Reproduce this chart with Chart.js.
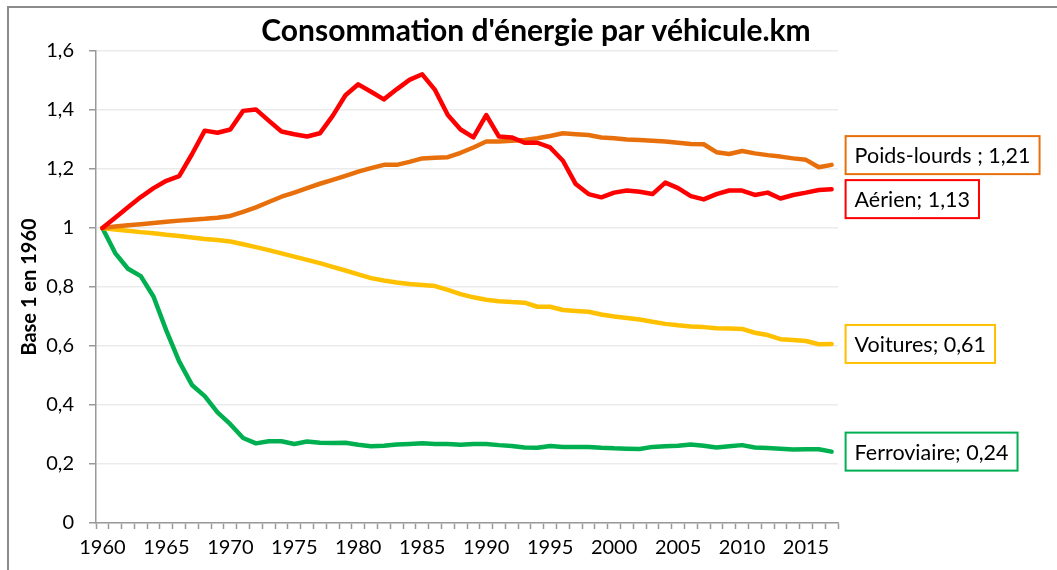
<!DOCTYPE html>
<html lang="fr">
<head>
<meta charset="utf-8">
<title>Consommation d'énergie par véhicule.km</title>
<script src="https://cdn.jsdelivr.net/npm/chart.js@4.4.1/dist/chart.umd.min.js"></script>
<style>
  html, body { margin: 0; padding: 0; background: #ffffff; }
  #wrap { width: 1057px; height: 570px; position: relative; }
</style>
</head>
<body>
<div id="wrap"><canvas id="chart"></canvas></div>
<script>
// Données (base 1 en 1960)
const years = [];
for (let y = 1960; y <= 2017; y++) years.push(y);

const aerien = [
  1.0, 1.035, 1.07, 1.105, 1.135, 1.16, 1.176, 1.25, 1.33, 1.323,
  1.334, 1.397, 1.402, 1.364, 1.327, 1.318, 1.31, 1.321, 1.38, 1.45,
  1.487, 1.462, 1.436, 1.47, 1.502, 1.521, 1.468, 1.383, 1.334, 1.307,
  1.383, 1.31, 1.307, 1.289, 1.289, 1.273, 1.228, 1.149, 1.115, 1.104,
  1.12, 1.127, 1.123, 1.115, 1.154, 1.135, 1.108, 1.097, 1.115, 1.127,
  1.127, 1.112, 1.12, 1.1, 1.112, 1.12, 1.129, 1.131
];
const poidsLourds = [
  1.0, 1.005, 1.009, 1.013, 1.017, 1.021, 1.025, 1.028, 1.031, 1.035,
  1.041, 1.055, 1.07, 1.088, 1.106, 1.12, 1.135, 1.15, 1.163, 1.177,
  1.191, 1.203, 1.214, 1.214, 1.224, 1.236, 1.238, 1.24, 1.255, 1.273,
  1.293, 1.293, 1.296, 1.298, 1.304, 1.312, 1.321, 1.318, 1.315, 1.307,
  1.304, 1.3, 1.298, 1.296, 1.293, 1.289, 1.285, 1.284, 1.257, 1.251,
  1.261, 1.253, 1.247, 1.242, 1.236, 1.231, 1.206, 1.214
];
const voitures = [
  1.0, 0.995, 0.991, 0.986, 0.982, 0.977, 0.973, 0.968, 0.963, 0.959,
  0.954, 0.945, 0.935, 0.925, 0.914, 0.903, 0.892, 0.881, 0.868, 0.856,
  0.843, 0.83, 0.822, 0.815, 0.81, 0.807, 0.803, 0.79, 0.776, 0.765,
  0.757, 0.752, 0.749, 0.747, 0.733, 0.733, 0.722, 0.719, 0.716, 0.707,
  0.7, 0.695, 0.69, 0.682, 0.675, 0.67, 0.666, 0.664, 0.66, 0.659,
  0.658, 0.645, 0.637, 0.623, 0.62, 0.617, 0.606, 0.607
];
const ferroviaire = [
  1.0, 0.915, 0.862, 0.837, 0.767, 0.652, 0.548, 0.468, 0.43, 0.375,
  0.335, 0.288, 0.27, 0.277, 0.277, 0.268, 0.276, 0.272, 0.271, 0.272,
  0.265, 0.26, 0.262, 0.266, 0.268, 0.27, 0.268, 0.268, 0.265, 0.268,
  0.268, 0.264, 0.261, 0.256, 0.255, 0.261, 0.258, 0.258, 0.258, 0.255,
  0.253, 0.252, 0.251, 0.258, 0.26, 0.262, 0.266, 0.262, 0.256, 0.26,
  0.264, 0.256, 0.254, 0.252, 0.249, 0.25, 0.25, 0.242
];

const endLabels = ["Aérien; 1,13", "Poids-lourds ; 1,21", "Voitures; 0,61", "Ferroviaire; 0,24"];
const colors = ["#ff0000", "#e8700c", "#ffc000", "#00b050"];

const FONT = "Lato, 'Open Sans', sans-serif";

// Cadre gris + fond blanc
const framePlugin = {
  id: "frame",
  beforeDraw(chart) {
    const ctx = chart.ctx;
    ctx.save();
    ctx.fillStyle = "#ffffff";
    ctx.fillRect(0, 0, chart.width, chart.height);
    ctx.strokeStyle = "#8c8c8c";
    ctx.lineWidth = 2;
    ctx.strokeRect(8, 7, chart.width + 20, chart.height + 20);
    ctx.restore();
  },
};

// Titre centré sur la page
const titlePlugin = {
  id: "pageTitle",
  afterDraw(chart) {
    const ctx = chart.ctx;
    ctx.save();
    ctx.font = "bold 30px " + FONT;
    ctx.fillStyle = "#000000";
    ctx.textAlign = "center";
    ctx.textBaseline = "middle";
    ctx.fillText("Consommation d'énergie par véhicule.km", 536, 31);
    ctx.restore();
  },
};

// Étiquettes encadrées en bout de courbe
const endLabelPlugin = {
  id: "endLabels",
  afterDatasetsDraw(chart) {
    const ctx = chart.ctx;
    const yScale = chart.scales.y;
    const xScale = chart.scales.x;
    const lastIndex = years.length - 1;
    const boxH = 38;
    const items = chart.data.datasets.map((ds, i) => ({
      text: endLabels[i],
      color: ds.borderColor,
      y: yScale.getPixelForValue(ds.data[lastIndex]),
    }));
    // éviter les chevauchements
    const sorted = items.slice().sort((a, b) => a.y - b.y);
    for (let i = 1; i < sorted.length; i++) {
      const prev = sorted[i - 1];
      const cur = sorted[i];
      const gap = boxH + 6;
      if (cur.y - prev.y < gap) {
        const mid = (cur.y + prev.y) / 2;
        prev.y = mid - gap / 2;
        cur.y = mid + gap / 2;
      }
    }
    const left = xScale.getPixelForValue(lastIndex) + 14;
    ctx.save();
    ctx.font = "21.5px " + FONT;
    ctx.textBaseline = "middle";
    ctx.textAlign = "left";
    items.forEach((it) => {
      const w = ctx.measureText(it.text).width + 18;
      ctx.fillStyle = "#ffffff";
      ctx.fillRect(left, it.y - boxH / 2, w, boxH);
      ctx.strokeStyle = it.color;
      ctx.lineWidth = 2;
      ctx.strokeRect(left, it.y - boxH / 2, w, boxH);
      ctx.fillStyle = "#000000";
      ctx.fillText(it.text, left + 9, it.y + 1);
    });
    ctx.restore();
  },
};

const ctx = document.getElementById("chart").getContext("2d");
const chart = new Chart(ctx, {
  type: "line",
  data: {
    labels: years,
    datasets: [
      { label: "Aérien", data: aerien },
      { label: "Poids-lourds", data: poidsLourds },
      { label: "Voitures", data: voitures },
      { label: "Ferroviaire", data: ferroviaire },
    ].map((ds, i) => ({
      ...ds,
      borderColor: colors[i],
      backgroundColor: colors[i],
      borderWidth: 4.5,
      pointRadius: 0,
      tension: 0,
      borderJoinStyle: "round",
      borderCapStyle: "round",
    })),
  },
  options: {
    responsive: true,
    maintainAspectRatio: false,
    animation: false,
    layout: {
      padding: { top: 51, right: 219, bottom: 0, left: 0 },
    },
    plugins: {
      legend: { display: false },
      tooltip: { enabled: false },
      title: { display: false },
    },
    scales: {
      x: {
        type: "category",
        offset: true,
        grid: {
          offset: true,
          drawOnChartArea: false,
          drawTicks: true,
          tickLength: 6,
          tickColor: "#999999",
          tickWidth: 1.5,
        },
        border: { color: "#999999", width: 1.5 },
        ticks: {
          autoSkip: false,
          maxRotation: 0,
          padding: 7,
          color: "#000000",
          font: { family: FONT, size: 20 },
          callback: (val, i) => (years[i] % 5 === 0 ? String(years[i]) : ""),
        },
        afterFit: (scale) => {
          scale.height = 47;
        },
      },
      y: {
        min: 0,
        max: 1.6,
        ticks: {
          stepSize: 0.2,
          padding: 15,
          color: "#000000",
          font: { family: FONT, size: 20 },
          callback: (v) => String(Math.round(v * 10) / 10).replace(".", ","),
        },
        grid: {
          color: "#ebebeb",
          lineWidth: 1.5,
          tickColor: "#999999",
          tickLength: 7,
        },
        border: { color: "#999999", width: 1.5 },
        title: {
          display: true,
          text: "Base 1 en 1960",
          color: "#000000",
          font: { family: FONT, size: 20, weight: "bold" },
          padding: { top: 18, bottom: 0 },
        },
        afterFit: (scale) => {
          scale.width = 96;
        },
      },
    },
  },
  plugins: [framePlugin, titlePlugin, endLabelPlugin],
});
</script>
</body>
</html>
